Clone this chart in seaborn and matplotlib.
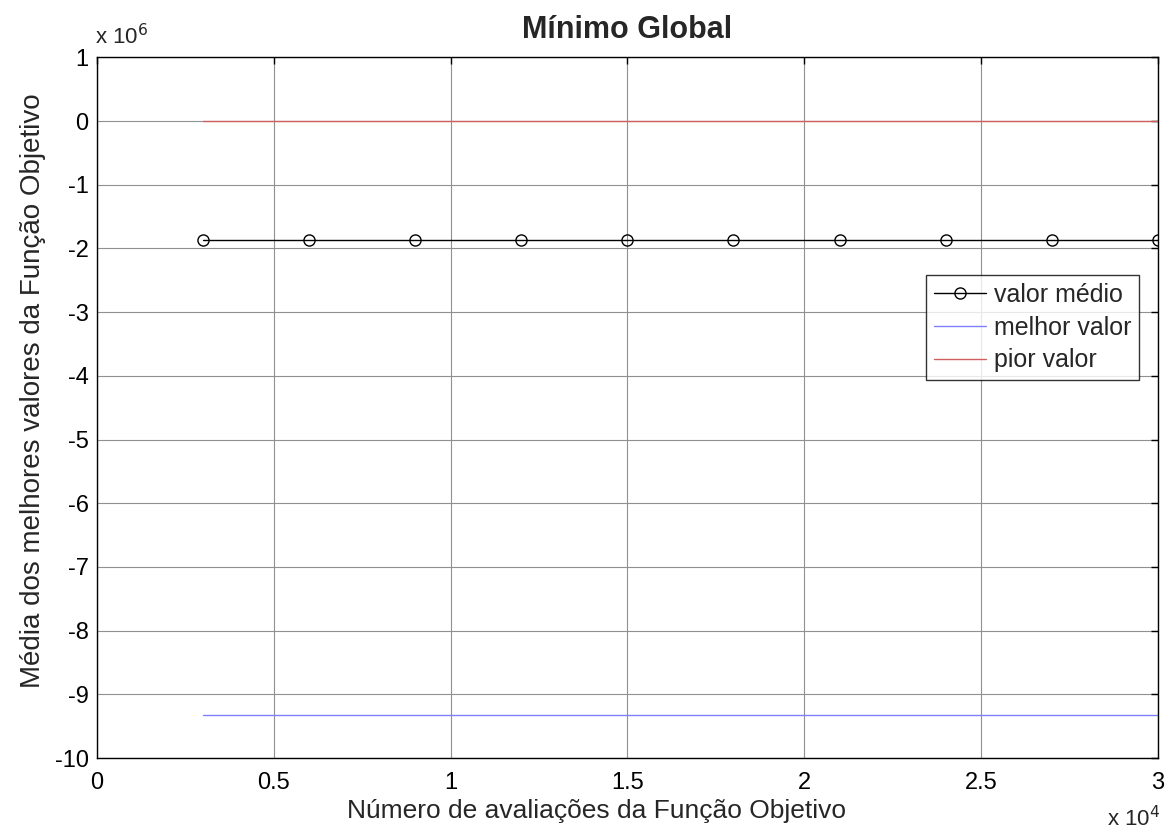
import matplotlib
matplotlib.use("Agg")
import matplotlib.pyplot as plt
import matplotlib.ticker as mticker
import seaborn as sns
import pandas as pd

sns.set_theme(style="white")
plt.rcParams['font.family'] = ['Liberation Sans', 'DejaVu Sans']

# Function evaluations and the objective values recorded at each checkpoint
evaluations = [3000, 6000, 9000, 12000, 15000, 18000, 21000, 24000, 27000, 30000]
mean_values = [-1.86e6] * 10
best_values = [-9.33e6] * 10
worst_values = [-2.0e3] * 10

series_labels = ["valor médio", "melhor valor", "pior valor"]
y_ticks = [-10e6, -9e6, -8e6, -7e6, -6e6, -5e6, -4e6, -3e6, -2e6, -1e6, 0, 1e6]
x_ticks = [0, 5000, 10000, 15000, 20000, 25000, 30000]

df = pd.DataFrame({
    "evals": evaluations,
    "mean": mean_values,
    "best": best_values,
    "worst": worst_values,
})

fig = plt.figure(figsize=(11.73, 8.31), dpi=100)
ax = fig.add_axes([0.0827, 0.0878, 0.9043, 0.8432])

sns.lineplot(data=df, x="evals", y="mean", ax=ax, color="black", lw=1.0,
             marker="o", markersize=8, markerfacecolor="none",
             markeredgecolor="black", markeredgewidth=1.0,
             label=series_labels[0])
sns.lineplot(data=df, x="evals", y="best", ax=ax, color="#8080ff", lw=1.0,
             label=series_labels[1])
sns.lineplot(data=df, x="evals", y="worst", ax=ax, color="#d06060", lw=1.0,
             label=series_labels[2])

ax.set_xlim(0, 30000)
ax.set_ylim(-10e6, 1e6)
ax.set_xticks(x_ticks)
ax.set_yticks(y_ticks)
ax.xaxis.set_major_formatter(mticker.FuncFormatter(lambda v, p: f"{v/1e4:g}"))
ax.yaxis.set_major_formatter(mticker.FuncFormatter(lambda v, p: f"{v/1e6:g}"))

ax.grid(True, color="#909090", lw=0.8)
ax.set_axisbelow(True)
ax.tick_params(direction="in", length=5, width=1, colors="black",
               labelsize=17, top=True, right=True)
ax.tick_params(axis="x", pad=10)
ax.tick_params(axis="y", pad=6)
for s in ax.spines.values():
    s.set_color("black")
    s.set_linewidth(1.0)

ax.set_xlabel("Número de avaliações da Função Objetivo", fontsize=19)
ax.xaxis.set_label_coords(0.471, -0.058)
ax.set_ylabel("Média dos melhores valores da Função Objetivo", fontsize=20)
ax.yaxis.set_label_coords(-0.048, 0.524)
ax.set_title("Mínimo Global", fontsize=22, fontweight="bold", pad=14)

ax.text(-0.002, 1.012, "x 10$^{6}$", transform=ax.transAxes, fontsize=16,
        ha="left", va="bottom")
ax.text(1.002, -0.068, "x 10$^{4}$", transform=ax.transAxes, fontsize=16,
        ha="right", va="top")

leg = ax.legend(loc="upper right", bbox_to_anchor=(0.982, 0.689),
                fontsize=18, frameon=True, fancybox=False,
                handlelength=2.1, handletextpad=0.3, borderpad=0.3,
                labelspacing=0.35, borderaxespad=0)
leg.get_frame().set_edgecolor("black")
leg.get_frame().set_linewidth(1.0)

fig.savefig("out.png", dpi=100)
